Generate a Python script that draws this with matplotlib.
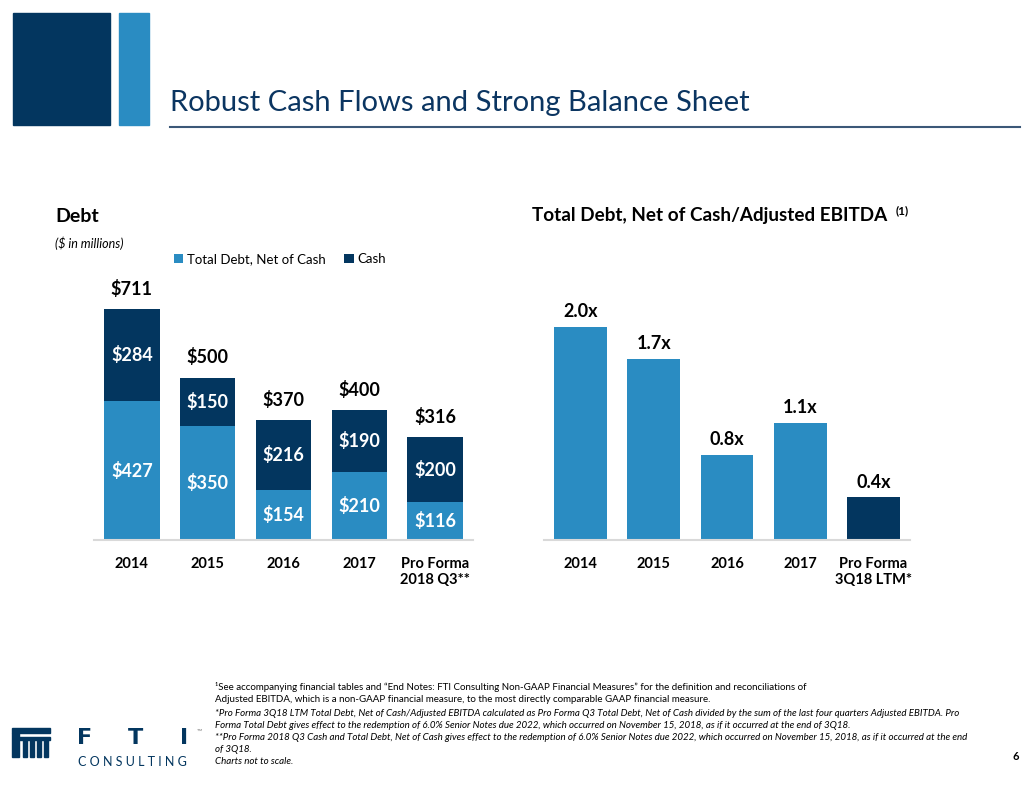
import matplotlib
matplotlib.use("Agg")
import matplotlib.pyplot as plt
from matplotlib.patches import Rectangle

plt.rcParams['font.family'] = ['Lato', 'DejaVu Sans']

W, H = 1032, 792
LIGHT = '#2A8CC2'
NAVY = '#03365F'

# data
years = ['2014', '2015', '2016', '2017', 'Pro Forma\n2018 Q3**']
debt_net = [427, 350, 154, 210, 116]
cash = [284, 150, 216, 190, 200]
totals = [711, 500, 370, 400, 316]

ratio_labels = ['2014', '2015', '2016', '2017', 'Pro Forma\n3Q18 LTM*']
ratios = [2.0, 1.7, 0.8, 1.1, 0.4]
ratio_colors = [LIGHT, LIGHT, LIGHT, LIGHT, NAVY]

footnotes = [
    ("\u00b9See accompanying financial tables and \u201cEnd Notes: FTI Consulting Non-GAAP Financial Measures\u201d for the definition and reconciliations of", 'normal'),
    ("Adjusted EBITDA, which is a non-GAAP financial measure, to the most directly comparable GAAP financial measure.", 'normal'),
    ("*Pro Forma 3Q18 LTM Total Debt, Net of Cash/Adjusted EBITDA calculated as Pro Forma Q3 Total Debt, Net of Cash divided by the sum of the last four quarters Adjusted EBITDA. Pro", 'italic'),
    ("Forma Total Debt gives effect to the redemption of 6.0% Senior Notes due 2022, which occurred on November 15, 2018, as if it occurred at the end of 3Q18.", 'italic'),
    ("**Pro Forma 2018 Q3 Cash and Total Debt, Net of Cash gives effect to the redemption of 6.0% Senior Notes due 2022, which occurred on November 15, 2018, as if it occurred at the end", 'italic'),
    ("of 3Q18.", 'italic'),
    ("Charts not to scale.", 'italic'),
]


def fx(x):
    return x / W


def fy(y):
    return 1 - y / H


fig = plt.figure(figsize=(W / 100, H / 100), dpi=100)

# header blocks
fig.patches.append(Rectangle((fx(13), fy(125)), fx(97), 112 / H, color=NAVY, transform=fig.transFigure))
fig.patches.append(Rectangle((fx(119), fy(125)), fx(30), 112 / H, color='#2A8CC2', transform=fig.transFigure))
fig.text(fx(170), fy(103), 'Robust Cash Flows and Strong Balance Sheet', fontsize=21,
         color='#0B3561', va='center', ha='left')
fig.add_artist(plt.Line2D([fx(170), fx(1020)], [fy(127), fy(127)], color='#3B5878', lw=1.5,
                          transform=fig.transFigure))

# left chart: debt
fig.text(fx(55), fy(216), 'Debt', fontsize=14, fontweight='bold', va='center')
fig.text(fx(55), fy(243), '($ in millions)', fontsize=9, style='italic', va='center')

ax1 = fig.add_axes([fx(94), fy(540), 379 / W, 260 / H])
x = range(len(years))
b1 = ax1.bar(x, debt_net, width=0.73, color=LIGHT, label='Total Debt, Net of Cash')
b2 = ax1.bar(x, cash, width=0.73, bottom=debt_net, color=NAVY, label='Cash')
ax1.set_xlim(-0.5, 4.5)
ax1.set_ylim(0, 800)
for i in x:
    ax1.text(i, debt_net[i] / 2, f'${debt_net[i]}', color='white', fontsize=13,
             fontweight='bold', ha='center', va='center')
    ax1.text(i, debt_net[i] + cash[i] / 2, f'${cash[i]}', color='white', fontsize=13,
             fontweight='bold', ha='center', va='center')
    ax1.text(i, totals[i] + 62, f'${totals[i]}', color='black', fontsize=13,
             fontweight='bold', ha='center', va='center')
ax1.set_xticks(list(x))
ax1.set_xticklabels(years, fontsize=10.5, fontweight='bold')
ax1.tick_params(axis='x', length=0, pad=12)
ax1.set_yticks([])
for s in ['top', 'right', 'left']:
    ax1.spines[s].set_visible(False)
ax1.spines['bottom'].set_color('#D9D9D9')
ax1.spines['bottom'].set_linewidth(1.5)
ax1.patch.set_alpha(0)
fig.legend(handles=[b1, b2], loc='center left', bbox_to_anchor=(fx(174), fy(259)), ncol=2,
           frameon=False, fontsize=9.5, handlelength=0.7, handleheight=0.7,
           handletextpad=0.3, columnspacing=1.4, borderaxespad=0, borderpad=0)

# right chart: leverage ratio
fig.text(fx(532), fy(216), 'Total Debt, Net of Cash/Adjusted EBITDA', fontsize=13.6,
         fontweight='bold', va='center')
fig.text(fx(896), fy(211), '(1)', fontsize=8.5, fontweight='bold', va='center', ha='left')
ax2 = fig.add_axes([fx(544), fy(540), 366 / W, 256 / H])
x2 = range(len(ratios))
ax2.bar(x2, ratios, width=0.72, color=ratio_colors)
ax2.set_xlim(-0.5, 4.5)
ax2.set_ylim(0, 2.4)
for i in x2:
    ax2.text(i, ratios[i] + 0.14, f'{ratios[i]:.1f}x', color='black', fontsize=13,
             fontweight='bold', ha='center', va='center')
ax2.set_xticks(list(x2))
ax2.set_xticklabels(ratio_labels, fontsize=10.5, fontweight='bold')
ax2.tick_params(axis='x', length=0, pad=12)
ax2.set_yticks([])
for s in ['top', 'right', 'left']:
    ax2.spines[s].set_visible(False)
ax2.spines['bottom'].set_color('#D9D9D9')
ax2.spines['bottom'].set_linewidth(1.5)
ax2.patch.set_alpha(0)

# footnotes
ys = [687, 700, 713, 725, 737, 749, 762]
for (txt, st), yy in zip(footnotes, ys):
    fig.text(fx(215), fy(yy), txt, fontsize=7.0, style=st, va='center', ha='left')
fig.text(fx(1016), fy(757), '6', fontsize=8, fontweight='bold', va='center', ha='center')

# logo
fig.patches.append(Rectangle((fx(12), fy(733)), fx(38), 5 / H, color=NAVY, transform=fig.transFigure))
fig.patches.append(Rectangle((fx(12), fy(757)), fx(7), 24 / H, color=NAVY, transform=fig.transFigure))
for k in range(4):
    fig.patches.append(Rectangle((fx(23 + k * 7), fy(757)), fx(4), 19 / H, color=NAVY,
                                 transform=fig.transFigure))
fig.patches.append(Rectangle((fx(19), fy(740)), fx(31), 3 / H, color=NAVY, transform=fig.transFigure))
for lx, ch in zip([85, 135, 184], ['F', 'T', 'I']):
    fig.text(fx(lx), fy(738), ch, fontsize=16, fontweight='bold', color=NAVY, va='center',
             ha='center', family='DejaVu Sans')
fig.text(fx(199), fy(731), '\u2122', fontsize=5, color='gray', va='center', ha='center')
fig.text(fx(132), fy(762), 'C O N S U L T I N G', fontsize=9, color=NAVY, va='center',
         ha='center')

fig.savefig('out.png', dpi=100)
